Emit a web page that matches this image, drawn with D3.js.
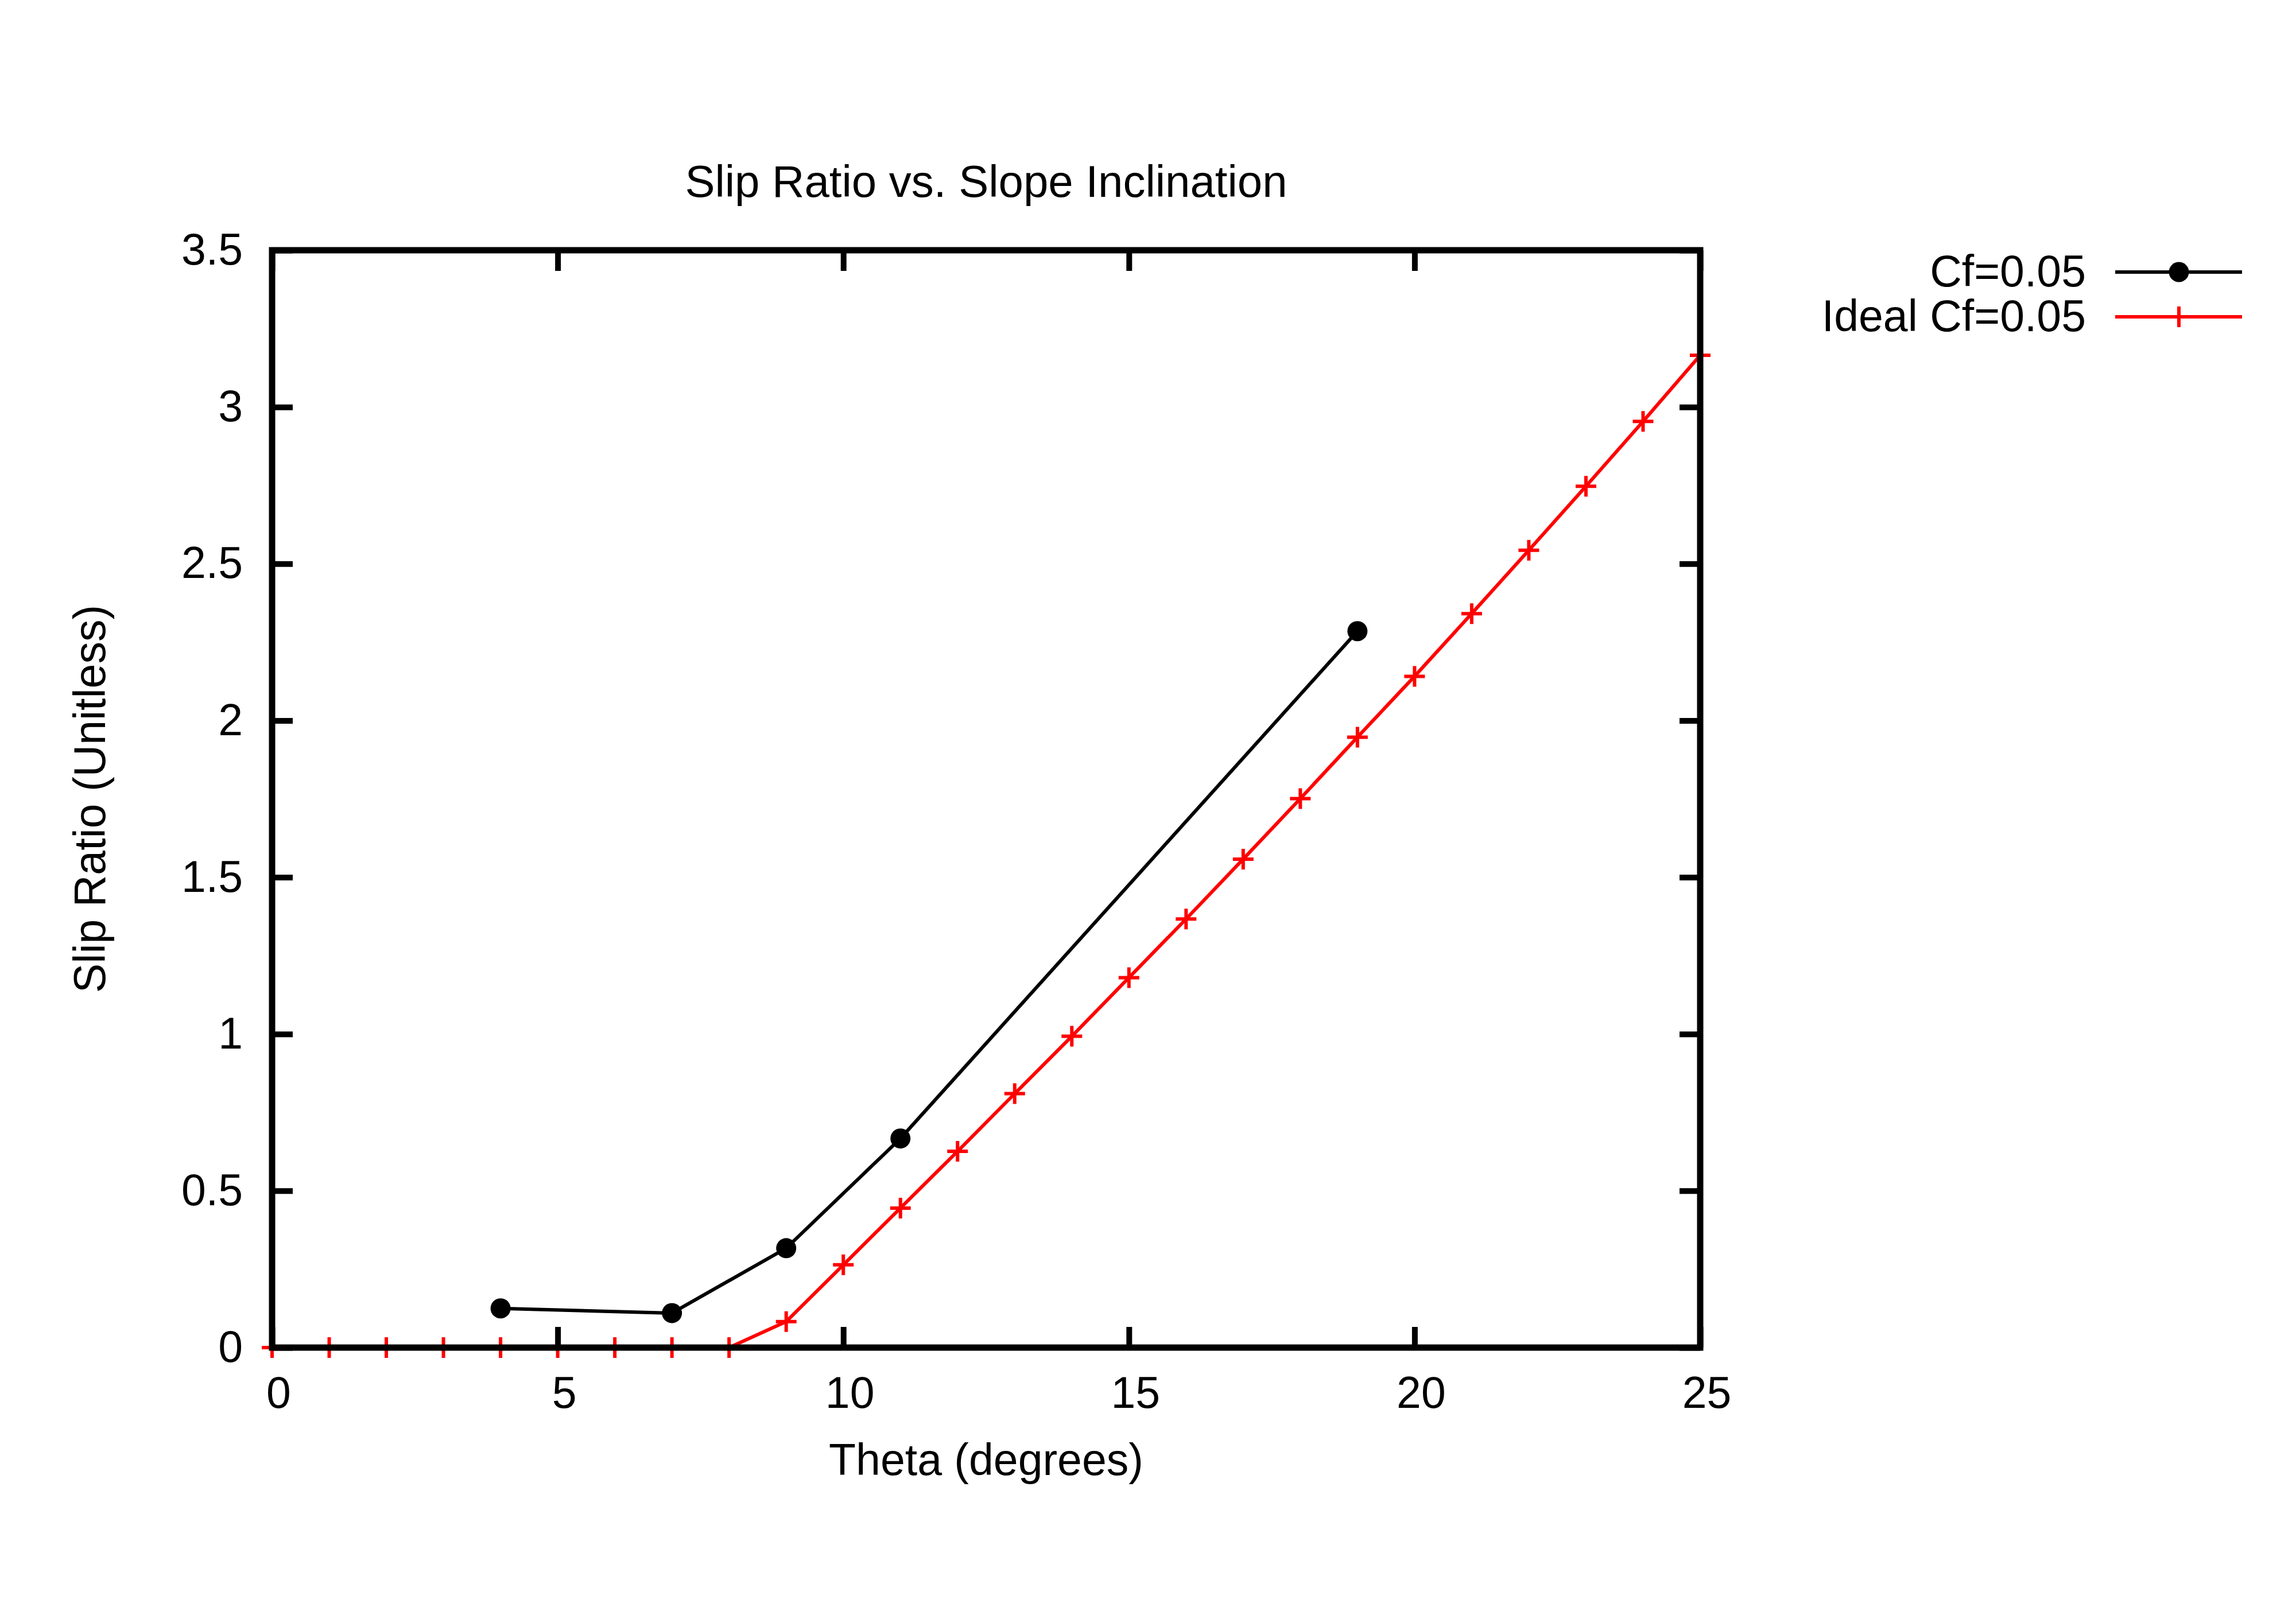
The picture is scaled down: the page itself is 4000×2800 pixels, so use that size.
<!DOCTYPE html>
<html>
  <head>
    <meta charset="utf-8">
    <title>Slip Ratio vs. Slope Inclination</title>
    <script type="text/javascript" src="https://d3js.org/d3.v7.min.js"></script>
    <style>
      body { margin: 0; background: #ffffff; }
      text { font-family: "Liberation Sans", Arial, Helvetica, sans-serif; fill: #000000; }
    </style>
  </head>

  <body>
    <script>

    // measured points
    var thetaMeasured = [4, 7, 9, 11, 19];
    var slipMeasured  = [0.125, 0.11, 0.317, 0.667, 2.285];

    // ideal curve, one point per degree
    var thetaIdeal = [0, 1, 2, 3, 4, 5, 6, 7, 8, 9, 10, 11, 12, 13, 14, 15, 16, 17, 18, 19, 20, 21, 22, 23, 24, 25];
    var slipIdeal  = [0, 0, 0, 0, 0, 0, 0, 0, 0, 0.083, 0.264, 0.445, 0.626, 0.81, 0.993, 1.18, 1.367,
                      1.558, 1.751, 1.947, 2.141, 2.341, 2.543, 2.747, 2.954, 3.165];

    var xTicks = [0, 5, 10, 15, 20, 25];
    var xTickLabels = ["0", "5", "10", "15", "20", "25"];
    var yTicks = [0, 0.5, 1, 1.5, 2, 2.5, 3, 3.5];
    var yTickLabels = ["0", "0.5", "1", "1.5", "2", "2.5", "3", "3.5"];

    var seriesNames = ["Cf=0.05", "Ideal Cf=0.05"];
    var seriesColors = ["#000000", "#ff0000"];

    var width = 4000, height = 2800;                    // svg area
    var plot = {left: 474, right: 2962, top: 436, bottom: 2348};
    var tickLen = 36, fontSize = 77, lineW = 6;

    var x = d3.scaleLinear()
              .domain([0, 25])
              .range([plot.left, plot.right]);

    var y = d3.scaleLinear()
              .domain([0, 3.5])
              .range([plot.bottom, plot.top]);

    var svg = d3.select('body')
                .append('svg')
                .attr("width", width)
                .attr("height", height)
                .style("display", "block");

    svg.append("rect")
       .attr("width", width)
       .attr("height", height)
       .attr("fill", "#ffffff");

    var line = d3.line()
                 .x(function(d) { return x(d[0]); })
                 .y(function(d) { return y(d[1]); });

    var plusPath = "M-18,0H18M0,-18V18";                // gnuplot style "+" marker

    // ideal series (red, plus markers)
    var ideal = d3.zip(thetaIdeal, slipIdeal);
    svg.append("path")
       .datum(ideal)
       .attr("d", line)
       .attr("fill", "none")
       .attr("stroke", seriesColors[1])
       .attr("stroke-width", lineW);

    svg.selectAll(".plus")
       .data(ideal)
       .enter()
         .append("path")
         .attr("class", "plus")
         .attr("d", plusPath)
         .attr("transform", function(d) { return "translate(" + x(d[0]) + "," + y(d[1]) + ")"; })
         .attr("stroke", seriesColors[1])
         .attr("stroke-width", lineW);

    // measured series (black, filled circles)
    var measured = d3.zip(thetaMeasured, slipMeasured);
    svg.append("path")
       .datum(measured)
       .attr("d", line)
       .attr("fill", "none")
       .attr("stroke", seriesColors[0])
       .attr("stroke-width", lineW);

    svg.selectAll(".dot")
       .data(measured)
       .enter()
         .append("circle")
         .attr("class", "dot")
         .attr("cx", function(d) { return x(d[0]); })
         .attr("cy", function(d) { return y(d[1]); })
         .attr("r", 17.5)
         .attr("fill", seriesColors[0]);

    // axes, ticks pointing inwards on all four sides
    function styleAxis(g) {
      g.select(".domain").remove();
      g.attr("font-family", null).attr("font-size", null);
      g.selectAll(".tick line").attr("stroke", "#000").attr("stroke-width", 10);
      g.selectAll(".tick text").style("font-size", fontSize + "px").attr("fill", "#000");
    }

    svg.append("g")
       .attr("transform", "translate(0," + plot.bottom + ")")
       .call(d3.axisBottom(x)
               .tickValues(xTicks)
               .tickFormat(function(d, i) { return xTickLabels[i]; })
               .tickSize(-tickLen)
               .tickPadding(50))
       .call(styleAxis)
       .selectAll(".tick text").attr("dx", 11);

    svg.append("g")
       .attr("transform", "translate(0," + plot.top + ")")
       .call(d3.axisTop(x).tickValues(xTicks).tickFormat("").tickSize(-tickLen))
       .call(styleAxis);

    svg.append("g")
       .attr("transform", "translate(" + plot.left + ",0)")
       .call(d3.axisLeft(y)
               .tickValues(yTicks)
               .tickFormat(function(d, i) { return yTickLabels[i]; })
               .tickSize(-tickLen)
               .tickPadding(51))
       .call(styleAxis);

    svg.append("g")
       .attr("transform", "translate(" + plot.right + ",0)")
       .call(d3.axisRight(y).tickValues(yTicks).tickFormat("").tickSize(-tickLen))
       .call(styleAxis);

    // border drawn over the data like gnuplot does
    svg.append("rect")
       .attr("x", x(0))
       .attr("y", y(3.5))
       .attr("width", x(25) - x(0))
       .attr("height", y(0) - y(3.5))
       .attr("fill", "none")
       .attr("stroke", "#000")
       .attr("stroke-width", 11);

    // titles
    svg.append("text")
       .attr("x", (plot.left + plot.right) / 2)
       .attr("y", 343)
       .attr("text-anchor", "middle")
       .style("font-size", "78px")
       .text("Slip Ratio vs. Slope Inclination");

    svg.append("text")
       .attr("x", (plot.left + plot.right) / 2)
       .attr("y", 2570)
       .attr("text-anchor", "middle")
       .style("font-size", fontSize + "px")
       .text("Theta (degrees)");

    svg.append("text")
       .attr("transform", "translate(183," + (plot.top + plot.bottom) / 2 + ") rotate(-90)")
       .attr("text-anchor", "middle")
       .style("font-size", fontSize + "px")
       .text("Slip Ratio (Unitless)");

    // legend
    var legendRows = [474, 552];
    var legend = svg.selectAll(".key")
                    .data(seriesNames)
                    .enter()
                      .append("g")
                      .attr("class", "key")
                      .attr("transform", function(d, i) { return "translate(0," + legendRows[i] + ")"; });

    legend.append("text")
          .attr("x", 3634)
          .attr("y", 25)
          .attr("text-anchor", "end")
          .style("font-size", fontSize + "px")
          .text(function(d) { return d; });

    legend.append("line")
          .attr("x1", 3685)
          .attr("x2", 3906)
          .attr("stroke", function(d, i) { return seriesColors[i]; })
          .attr("stroke-width", lineW);

    legend.filter(function(d, i) { return i === 0; })
          .append("circle")
          .attr("cx", 3796)
          .attr("r", 17.5)
          .attr("fill", seriesColors[0]);

    legend.filter(function(d, i) { return i === 1; })
          .append("path")
          .attr("d", plusPath)
          .attr("transform", "translate(3796,0)")
          .attr("stroke", seriesColors[1])
          .attr("stroke-width", lineW);

    </script>
  </body>
</html>
